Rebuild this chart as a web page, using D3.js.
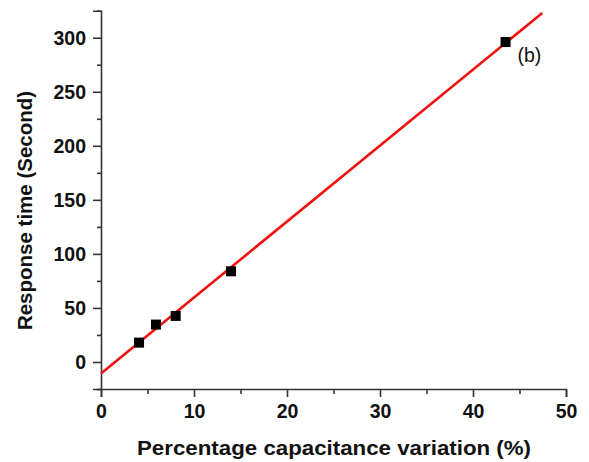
<!DOCTYPE html>
<html>
<head>
<meta charset="utf-8">
<script src="https://cdn.jsdelivr.net/npm/d3@7"></script>
<style>
  html, body { margin: 0; padding: 0; background: #fff; }
  svg { display: block; font-family: "Liberation Sans", Arial, sans-serif; }
</style>
</head>
<body>
<svg id="chart" width="589" height="462"></svg>
<script>
// Measured points: capacitance variation (%) vs response time (s)
const capVariation = [4.09, 5.91, 8.03, 13.98, 43.5];
const responseTime = [17.9, 34.6, 42.6, 83.9, 296];

// Linear fit drawn across the data
const fitIntercept = -10.7;
const fitSlope = 7.03;
const fitRange = [0, 47.45];

const xTicks = [0, 10, 20, 30, 40, 50];
const yTicks = [0, 50, 100, 150, 200, 250, 300];
const xMinorTicks = [5, 15, 25, 35, 45];
const yMinorTicks = [-25, 25, 75, 125, 175, 225, 275, 325];

const xTitle = "Percentage capacitance variation (%)";
const yTitle = "Response time (Second)";
const panelTag = "(b)";

const svg = d3.select("#chart");

const x = d3.scaleLinear().domain([0, 50]).range([101, 566]);
const y = d3.scaleLinear().domain([-25, 325]).range([389, 10.7]);

const axisColor = "#333";
const fontStack = "'Liberation Sans', Arial, sans-serif";

// X axis
const xAxis = svg.append("g").attr("transform", `translate(0,${y(-25)})`);
xAxis.call(d3.axisBottom(x).tickValues(xTicks).tickSize(8).tickPadding(6).tickFormat(d3.format("d")));
xAxis.append("g").call(d3.axisBottom(x).tickValues(xMinorTicks).tickSize(5).tickFormat(""))
  .select(".domain").remove();

// Y axis
const yAxis = svg.append("g").attr("transform", `translate(${x(0)},0)`);
yAxis.call(d3.axisLeft(y).tickValues(yTicks).tickSize(8).tickPadding(7).tickFormat(d3.format("d")));
yAxis.append("g").call(d3.axisLeft(y).tickValues(yMinorTicks).tickSize(4).tickFormat(""))
  .select(".domain").remove();

svg.selectAll(".domain").attr("stroke", axisColor).attr("stroke-width", 1.6);
svg.selectAll(".tick line").attr("stroke", axisColor).attr("stroke-width", 1.6);
svg.selectAll(".tick text")
  .attr("fill", "#111")
  .style("font-size", "19.5px")
  .style("font-weight", "bold")
  .style("font-family", fontStack);
yAxis.selectAll(".tick text").attr("dy", "0.34em");
xAxis.selectAll(".tick text").attr("dy", "0.78em");

// Fit line
const line = d3.line().x(d => x(d)).y(d => y(fitIntercept + fitSlope * d));
svg.append("path")
  .datum(fitRange)
  .attr("d", line)
  .attr("fill", "none")
  .attr("stroke", "#f01010")
  .attr("stroke-width", 2.6);

// Data markers
const pts = capVariation.map((v, i) => [v, responseTime[i]]);
const s = 10;
svg.append("g").selectAll("rect")
  .data(pts)
  .join("rect")
  .attr("x", d => x(d[0]) - s / 2)
  .attr("y", d => y(d[1]) - s / 2)
  .attr("width", s)
  .attr("height", s)
  .attr("fill", "#000");

// Axis titles
svg.append("text")
  .attr("x", 334)
  .attr("y", 454.5)
  .attr("text-anchor", "middle")
  .attr("textLength", 394)
  .attr("lengthAdjust", "spacingAndGlyphs")
  .style("font-size", "20px")
  .style("font-weight", "bold")
  .style("font-family", fontStack)
  .attr("fill", "#111")
  .text(xTitle);

svg.append("text")
  .attr("transform", "translate(32.3,210.5) rotate(-90)")
  .attr("text-anchor", "middle")
  .style("font-size", "20.5px")
  .style("font-weight", "bold")
  .style("font-family", fontStack)
  .attr("fill", "#111")
  .text(yTitle);

// Panel tag
svg.append("text")
  .attr("x", 517.5)
  .attr("y", 62)
  .style("font-size", "19.5px")
  .style("font-family", fontStack)
  .attr("fill", "#111")
  .text(panelTag);
</script>
</body>
</html>
